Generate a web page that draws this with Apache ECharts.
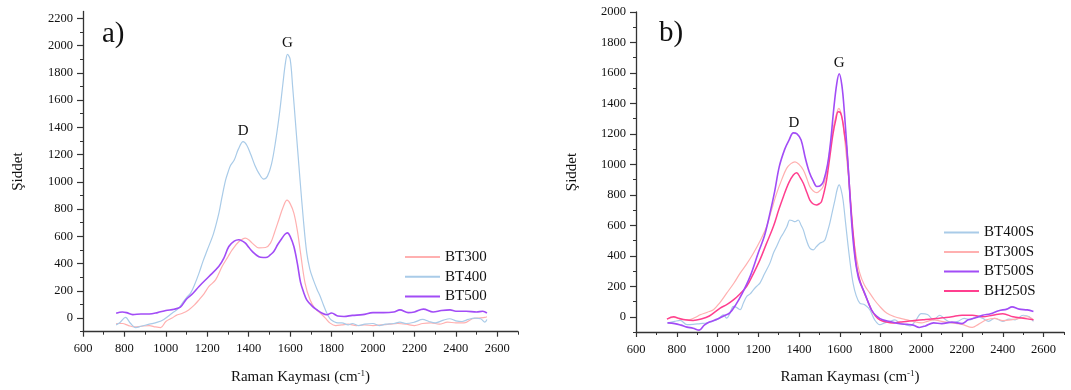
<!DOCTYPE html>
<html>
<head>
<meta charset="utf-8">
<script src="https://cdn.jsdelivr.net/npm/echarts@6/dist/echarts.min.js"></script>
<style>
html,body{margin:0;padding:0;background:#fff;}
#chart{width:1071px;height:390px;}
</style>
</head>
<body>
<div id="chart"></div>
<script>
// ---- Panel a) data: [Raman shift (cm-1), intensity] ----
const BT300 = [[760,-40],[790,-40],[820,-55],[850,-65],[880,-60],[920,-55],[950,-65],[975,-70],[1000,-25],[1030,0],[1050,20],[1080,35],[1110,60],[1140,100],[1160,134],[1185,180],[1208,232],[1240,280],[1272,380],[1300,450],[1320,500],[1352,560],[1384,587],[1400,575],[1417,550],[1449,515],[1481,518],[1505,550],[1525,630],[1545,720],[1565,810],[1585,865],[1600,840],[1618,770],[1635,640],[1650,480],[1672,257],[1696,134],[1720,70],[1745,37],[1770,0],[1793,-37],[1820,-55],[1850,-50],[1880,-45],[1920,-55],[1960,-50],[2000,-55],[2040,-50],[2080,-45],[2120,-40],[2160,-45],[2200,-55],[2240,-40],[2280,-35],[2320,-45],[2360,-30],[2400,-35],[2440,-35],[2480,-5],[2510,0],[2540,5],[2550,10]];
const BT400 = [[760,-50],[780,-30],[805,5],[830,-40],[855,-70],[880,-60],[920,-45],[960,-30],[990,-10],[1030,35],[1060,70],[1080,110],[1100,150],[1120,185],[1140,250],[1160,330],[1180,420],[1200,500],[1230,620],[1256,770],[1270,880],[1288,1010],[1300,1070],[1312,1120],[1330,1160],[1350,1240],[1373,1295],[1390,1270],[1410,1200],[1430,1120],[1450,1060],[1473,1020],[1490,1040],[1510,1130],[1530,1300],[1550,1520],[1565,1720],[1578,1880],[1587,1935],[1600,1900],[1612,1700],[1625,1450],[1637,1220],[1648,1010],[1664,720],[1680,480],[1695,360],[1712,280],[1730,210],[1745,160],[1760,100],[1777,37],[1795,-10],[1810,-25],[1830,-35],[1850,-35],[1880,-50],[1900,-40],[1930,-55],[1960,-45],[2000,-40],[2030,-55],[2060,-45],[2100,-40],[2130,-30],[2160,-40],[2200,-30],[2240,-10],[2270,-25],[2300,-35],[2340,-15],[2370,-5],[2400,-20],[2430,-25],[2460,-10],[2490,0],[2520,-5],[2540,-30],[2550,-10]];
const BT500 = [[760,35],[790,45],[810,40],[840,25],[880,30],[920,30],[960,40],[1000,55],[1040,65],[1070,80],[1100,140],[1130,180],[1160,232],[1208,305],[1256,380],[1280,440],[1304,525],[1330,565],[1352,575],[1370,565],[1384,550],[1400,520],[1417,489],[1449,450],[1470,445],[1489,447],[1505,465],[1521,489],[1540,540],[1561,587],[1575,615],[1587,625],[1600,600],[1618,525],[1635,400],[1650,264],[1665,190],[1680,134],[1705,90],[1729,61],[1755,35],[1777,24],[1800,37],[1830,15],[1860,12],[1900,20],[1950,25],[2000,40],[2050,40],[2100,45],[2130,60],[2170,40],[2200,45],[2243,66],[2290,45],[2330,55],[2372,60],[2400,50],[2450,50],[2500,45],[2530,50],[2550,37]];

// ---- Panel b) data ----
const BT400S = [[752,-41],[790,-30],[817,-24],[850,-52],[880,-50],[915,-45],[947,-41],[975,-30],[996,-20],[1015,0],[1029,13],[1045,-9],[1060,20],[1078,68],[1095,60],[1111,46],[1127,90],[1143,133],[1160,150],[1176,177],[1192,200],[1208,221],[1230,280],[1257,352],[1275,420],[1290,461],[1310,520],[1323,548],[1340,590],[1355,635],[1368,630],[1380,624],[1396,635],[1410,600],[1421,570],[1437,500],[1453,450],[1470,439],[1485,460],[1502,483],[1515,490],[1527,504],[1540,560],[1551,614],[1565,700],[1576,766],[1588,840],[1597,865],[1607,830],[1616,766],[1628,620],[1641,461],[1653,330],[1665,221],[1680,140],[1698,90],[1722,79],[1747,46],[1771,-20],[1796,-52],[1820,-40],[1845,-30],[1870,-20],[1894,-41],[1920,-50],[1945,-60],[1970,-30],[2000,20],[2030,15],[2060,-20],[2090,10],[2120,-20],[2150,-40],[2180,-30],[2210,-10],[2240,-20],[2270,0],[2300,-10],[2330,-30],[2360,-10],[2400,-30],[2430,-15],[2460,-20],[2500,10],[2530,0],[2550,-30]];
const BT300S = [[752,-15],[785,-5],[820,-15],[860,-20],[890,-5],[915,13],[950,30],[980,46],[1010,90],[1045,155],[1080,220],[1111,286],[1140,340],[1176,417],[1210,500],[1241,592],[1265,700],[1290,810],[1315,900],[1339,974],[1360,1005],[1380,1017],[1400,1000],[1421,963],[1440,900],[1453,854],[1470,825],[1486,814],[1500,825],[1518,854],[1535,950],[1551,1094],[1565,1220],[1576,1290],[1587,1345],[1595,1367],[1605,1340],[1616,1268],[1628,1110],[1641,941],[1653,740],[1665,548],[1680,400],[1698,286],[1720,210],[1747,155],[1770,110],[1796,68],[1820,35],[1845,13],[1870,0],[1894,-9],[1930,-20],[1960,-30],[2000,-40],[2030,-30],[2060,-20],[2100,-30],[2150,-40],[2200,-50],[2250,-70],[2280,-50],[2320,-20],[2360,-10],[2400,-25],[2440,-20],[2480,-10],[2520,0],[2550,-20]];
const BT500S = [[755,-40],[790,-45],[820,-55],[850,-68],[880,-75],[910,-88],[935,-55],[960,-35],[1000,-15],[1030,5],[1060,25],[1090,80],[1120,150],[1160,265],[1200,420],[1230,530],[1254,660],[1280,820],[1303,985],[1330,1100],[1351,1160],[1372,1207],[1390,1200],[1410,1160],[1431,1040],[1450,950],[1470,890],[1487,855],[1505,860],[1520,890],[1540,1000],[1555,1150],[1570,1360],[1585,1530],[1597,1595],[1610,1520],[1622,1350],[1641,985],[1665,504],[1690,264],[1722,155],[1755,46],[1780,5],[1810,-20],[1845,-31],[1894,-46],[1930,-50],[1960,-55],[1990,-70],[2020,-60],[2060,-40],[2100,-45],[2150,-35],[2200,-45],[2230,-20],[2270,-5],[2300,10],[2340,20],[2380,40],[2420,50],[2445,65],[2480,50],[2520,45],[2550,35]];
const BH250S = [[752,-15],[785,0],[810,-10],[840,-20],[880,-24],[920,-15],[960,5],[1013,57],[1045,80],[1078,111],[1110,150],[1143,199],[1175,280],[1208,373],[1240,480],[1274,592],[1300,700],[1323,788],[1350,880],[1372,930],[1388,945],[1405,915],[1421,876],[1440,810],[1453,766],[1470,740],[1486,734],[1500,742],[1510,755],[1525,830],[1535,897],[1550,1040],[1567,1203],[1580,1290],[1592,1345],[1603,1340],[1613,1290],[1625,1180],[1633,1116],[1645,900],[1657,679],[1670,480],[1682,330],[1698,240],[1714,177],[1735,110],[1755,46],[1775,5],[1796,-20],[1830,-35],[1861,-41],[1895,-35],[1926,-31],[1965,-25],[2008,-20],[2050,-15],[2089,-9],[2120,-5],[2150,0],[2200,10],[2250,10],[2300,0],[2350,10],[2400,20],[2450,0],[2500,-10],[2550,-20]];

// ---- Ticks / labels ----
const xMajorTicks = [600,800,1000,1200,1400,1600,1800,2000,2200,2400,2600];
const xMinorTicks = [700,900,1100,1300,1500,1700,1900,2100,2300,2500,2700];
const yMajorTicksA = [0,200,400,600,800,1000,1200,1400,1600,1800,2000,2200];
const yMinorTicksA = [-100,100,300,500,700,900,1100,1300,1500,1700,1900,2100];
const yMajorTicksB = [0,200,400,600,800,1000,1200,1400,1600,1800,2000];
const yMinorTicksB = [-100,100,300,500,700,900,1100,1300,1500,1700,1900];
const peaksA = [{name:'D', coord:[1373,1376]},{name:'G', coord:[1587,2017]}];
const peaksB = [{name:'D', coord:[1375,1270]},{name:'G', coord:[1597,1664]}];

const SERIF = 'Liberation Serif, Times New Roman, serif';
const AXIS_COLOR = '#333';
const TEXT_COLOR = '#111';
const colors = {BT300:'#ffb0b0', BT400:'#a9cbe8', BT500:'#a24cf6', BT300S:'#ffb0b0', BT400S:'#a9cbe8', BT500S:'#a24cf6', BH250S:'#ff3f8f'};
const widths = {BT300:1.2, BT400:1.2, BT500:1.6, BT300S:1.2, BT400S:1.2, BT500S:1.6, BH250S:1.5};

const chart = echarts.init(document.getElementById('chart'), null, {renderer:'canvas'});
const plain = v => String(v);

function xAxes(gridIndex){
  return [
    {type:'value', gridIndex, min:600, max:2700, position:'bottom',
     axisLine:{onZero:false, lineStyle:{color:AXIS_COLOR, width:1.3}},
     axisTick:{customValues:xMajorTicks, inside:false, length:5, lineStyle:{color:AXIS_COLOR, width:1.2}},
     axisLabel:{customValues:xMajorTicks, formatter:plain, color:TEXT_COLOR, fontFamily:SERIF, fontSize:12.5, margin:11},
     splitLine:{show:false},
     name:'Raman Kayması (cm{sup|-1})', nameLocation:'middle', nameGap:37,
     nameTextStyle:{color:TEXT_COLOR, fontFamily:SERIF, fontSize:15, rich:{sup:{fontSize:9, fontFamily:SERIF, color:TEXT_COLOR, verticalAlign:'top', padding:[0,0,8,0]}}}
    },
    {type:'value', gridIndex, min:600, max:2700, position:'bottom',
     axisLine:{show:false, onZero:false},
     axisTick:{customValues:xMinorTicks, inside:false, length:3, lineStyle:{color:AXIS_COLOR, width:1}},
     axisLabel:{show:false}, splitLine:{show:false}
    }
  ];
}
function yAxes(gridIndex, max, major, minor, gap){
  return [
    {type:'value', gridIndex, min:-100, max, position:'left',
     axisLine:{show:true, onZero:false, lineStyle:{color:AXIS_COLOR, width:1.3}},
     axisTick:{show:true, customValues:major, inside:false, length:6, lineStyle:{color:AXIS_COLOR, width:1.2}},
     axisLabel:{customValues:major, formatter:plain, color:TEXT_COLOR, fontFamily:SERIF, fontSize:12.5, margin:10},
     splitLine:{show:false},
     name:'Şiddet', nameLocation:'middle', nameGap:gap, nameRotate:90,
     nameTextStyle:{color:TEXT_COLOR, fontFamily:SERIF, fontSize:15}
    },
    {type:'value', gridIndex, min:-100, max, position:'left',
     axisLine:{show:false, onZero:false},
     axisTick:{show:true, customValues:minor, inside:false, length:3, lineStyle:{color:AXIS_COLOR, width:1}},
     axisLabel:{show:false}, splitLine:{show:false}
    }
  ];
}
function line(name, data, xi, yi, peaks){
  const s = {name, type:'line', data, xAxisIndex:xi, yAxisIndex:yi, showSymbol:false, symbol:'none',
    smooth:0.35, lineStyle:{color:colors[name], width:widths[name]}, itemStyle:{color:colors[name]}, animation:false, z:3};
  if (peaks) {
    s.markPoint = {symbol:'circle', symbolSize:0, silent:true, animation:false,
      label:{show:true, position:'inside', formatter:p=>p.name, color:'#111', fontFamily:SERIF, fontSize:15},
      data:peaks};
  }
  return s;
}

const option = {
  backgroundColor:'#fff',
  animation:false,
  grid:[
    {left:83, right:553, top:11.5, bottom:58.3},
    {left:636, right:7, top:12, bottom:57.7}
  ],
  xAxis:[...xAxes(0), ...xAxes(1)],
  yAxis:[...yAxes(0, 2250, yMajorTicksA, yMinorTicksA, 57), ...yAxes(1, 2000, yMajorTicksB, yMinorTicksB, 56)],
  legend:[
    {data:['BT300','BT400','BT500'], orient:'vertical', left:400, top:244, itemWidth:35, itemHeight:2, itemGap:3.7, icon:'rect',
     textStyle:{fontFamily:SERIF, fontSize:15, color:TEXT_COLOR, lineHeight:16}, selectedMode:false},
    {data:['BT400S','BT300S','BT500S','BH250S'], orient:'vertical', left:939, top:219.5, itemWidth:35, itemHeight:2, itemGap:3.5, icon:'rect',
     textStyle:{fontFamily:SERIF, fontSize:15, color:TEXT_COLOR, lineHeight:16}, selectedMode:false}
  ],
  graphic:[
    {type:'text', left:102, top:20, style:{text:'a)', font:'29px '+SERIF, fill:'#111'}},
    {type:'text', left:659, top:19, style:{text:'b)', font:'29px '+SERIF, fill:'#111'}}
  ],
  series:[
    line('BT300', BT300, 0, 0),
    line('BT400', BT400, 0, 0, peaksA),
    line('BT500', BT500, 0, 0),
    line('BT400S', BT400S, 2, 2),
    line('BT300S', BT300S, 2, 2),
    line('BH250S', BH250S, 2, 2),
    line('BT500S', BT500S, 2, 2, peaksB)
  ]
};
chart.setOption(option);
</script>
</body>
</html>
